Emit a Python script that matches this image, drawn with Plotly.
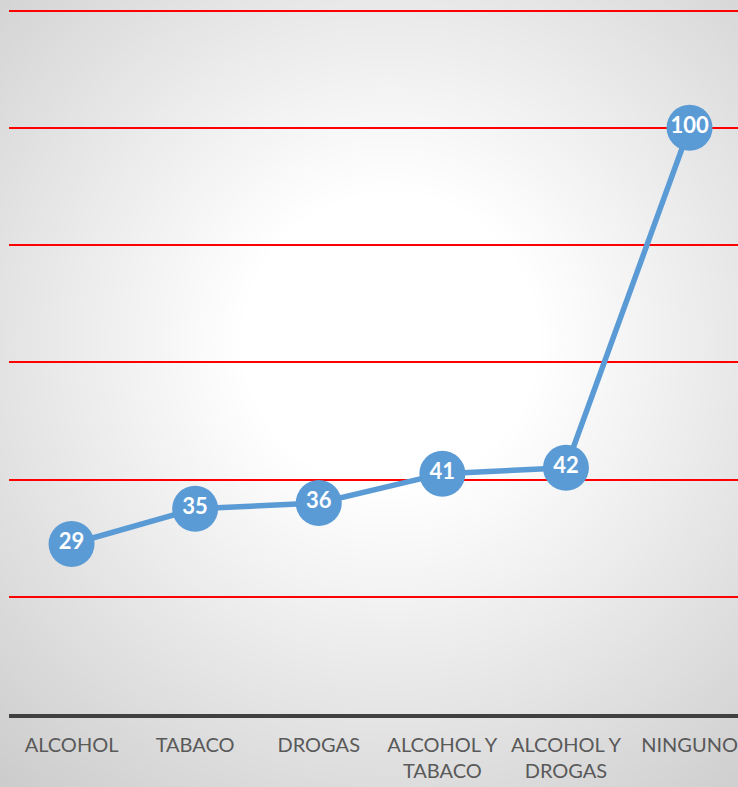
import zlib, struct, base64
import numpy as np
import plotly.graph_objects as go

categories = ["ALCOHOL", "TABACO", "DROGAS", "ALCOHOL Y<br>TABACO", "ALCOHOL Y<br>DROGAS", "NINGUNO"]
values = [29, 35, 36, 41, 42, 100]

W, H = 738, 787
L, R, T, B = 9, 0, 9, 73

# radial gradient background (white centre, grey edges)
yy, xx = np.mgrid[0:H, 0:W].astype(float)
r = np.sqrt((xx - 390) ** 2 + (yy - 340) ** 2)
g = 255 - 0.115 * np.clip(r - 150, 0, None)
g = np.clip(g, 0, 255).astype(np.uint8)

def png_bytes(arr):
    h, w = arr.shape
    raw = b"".join(b"\x00" + arr[i].tobytes() for i in range(h))
    def chunk(t, d):
        c = struct.pack(">I", len(d)) + t + d
        return c + struct.pack(">I", zlib.crc32(t + d) & 0xFFFFFFFF)
    return (b"\x89PNG\r\n\x1a\n" + chunk(b"IHDR", struct.pack(">IIBBBBB", w, h, 8, 0, 0, 0, 0))
            + chunk(b"IDAT", zlib.compress(raw, 9)) + chunk(b"IEND", b""))

bg_uri = "data:image/png;base64," + base64.b64encode(png_bytes(g)).decode()

pw = W - L - R
ph = H - T - B

fig = go.Figure(go.Scatter(
    x=categories, y=values, mode="lines+markers+text",
    line=dict(color="#5B9BD5", width=5.5),
    marker=dict(size=46, color="#5B9BD5"),
    text=[str(v) for v in values], textposition="middle center",
    textfont=dict(family="Lato", size=22, color="white", weight="bold"),
    cliponaxis=False, hoverinfo="skip",
))

fig.update_layout(
    width=W, height=H,
    margin=dict(l=L, r=R, t=T, b=B, pad=0),
    paper_bgcolor="white", plot_bgcolor="rgba(0,0,0,0)",
    showlegend=False,
    images=[dict(source=bg_uri, xref="paper", yref="paper",
                 x=-L / pw, y=1 + T / ph, sizex=W / pw, sizey=H / ph,
                 xanchor="left", yanchor="top", sizing="stretch", layer="below")],
    xaxis=dict(range=[-0.506, 5.392], showgrid=False, showline=True, linecolor="#404040",
               linewidth=3.5, ticks="", automargin=False, ticklabelstandoff=10,
               tickfont=dict(family="Lato", size=20, color="#595959"), fixedrange=True),
    yaxis=dict(range=[0, 120.26], dtick=20, showgrid=True, gridcolor="#FF0000", gridwidth=1.5,
               showticklabels=False, zeroline=False, showline=False, automargin=False, fixedrange=True),
)

fig.write_html("out.html", config={"displayModeBar": False},
               post_script="document.body.style.margin='0';document.body.style.overflow='hidden';")
